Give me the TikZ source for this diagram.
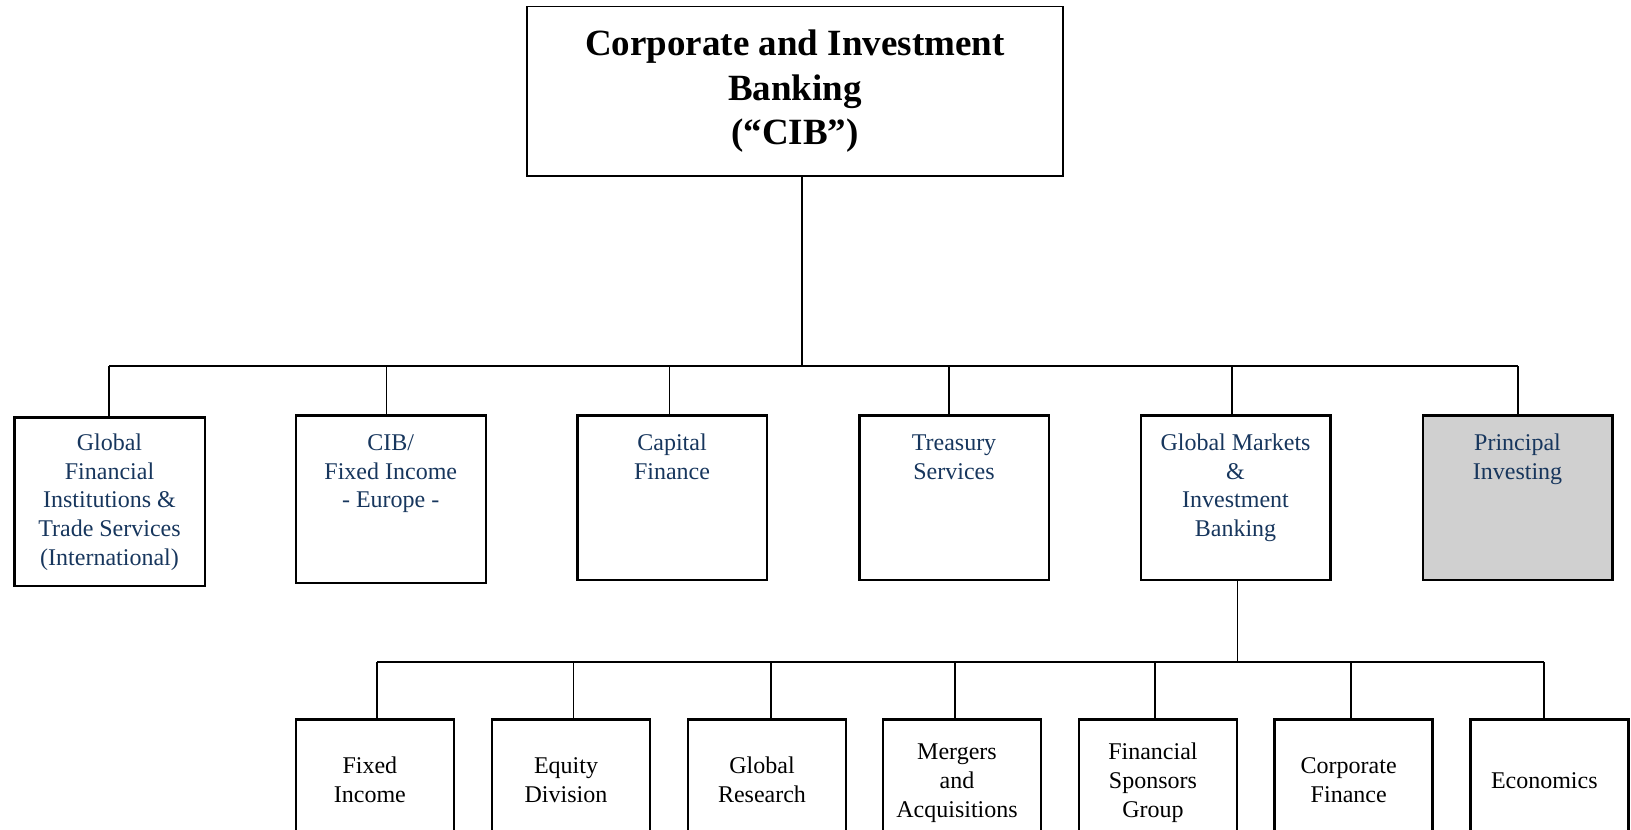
\documentclass[tikz,border=0pt]{standalone}
\usepackage{fontspec}
\setmainfont{Liberation Serif}
\definecolor{txtblue}{RGB}{23,54,93}
\definecolor{boxgray}{RGB}{208,208,208}
\begin{document}
\begin{tikzpicture}[x=0.5pt,y=-0.5pt,
  topbox/.style={draw,line width=0.75pt,inner sep=0pt,minimum width=268.1pt,minimum height=84.6pt,align=center,font=\fontsize{18.5}{22.25}\selectfont\bfseries},
  unitbox/.style={draw,line width=1.25pt,inner sep=0pt,minimum width=94.75pt,minimum height=82.25pt},
  unittext/.style={anchor=north,inner sep=0pt,align=center,text=txtblue,font=\fontsize{12}{14.45}\selectfont},
  subbox/.style={draw,line width=1.25pt,inner sep=0pt,minimum width=79pt,minimum height=63.25pt},
  subtext/.style={inner sep=0pt,align=center,font=\fontsize{12}{14.45}\selectfont},
  conn/.style={line width=0.8pt}]
\useasboundingbox (0,0) rectangle (1631,829);
\clip (0,0) rectangle (1631,829);

% top box
\node[topbox] (cib) at (794.9,91.35) {\strut Corporate and Investment\\Banking\\(“CIB”)\strut};

% second row boxes
\node[unitbox,minimum width=95.25pt,minimum height=84.25pt] (b1) at (109.5,501.5) {};
\node[unitbox,minimum width=95pt,minimum height=83.75pt] (b2) at (390.75,499) {};
\node[unitbox] (b3) at (672,497.5) {};
\node[unitbox] (b4) at (954,497.5) {};
\node[unitbox] (b5) at (1235.5,497.5) {};
\node[unitbox,fill=boxgray] (b6) at (1517.5,497.5) {};

\node[unittext] (t1) at (109.5,429.5) {\strut Global\\Financial\\Institutions \&\\Trade Services\\(International)};
\node[unittext] (t2) at (390.75,429.5) {\strut CIB/\\Fixed Income\\- Europe -};
\node[unittext] (t3) at (672,429.5) {\strut Capital\\Finance};
\node[unittext] (t4) at (954,429.5) {\strut Treasury\\Services};
\node[unittext] (t5) at (1235.5,429.5) {\strut Global Markets\\\&\\Investment\\Banking};
\node[unittext] (t6) at (1517.5,429.5) {\strut Principal\\Investing};

% third row boxes
\node[subbox] (s1) at (374.9,782.5) {};
\node[subbox] (s2) at (571,782.5) {};
\node[subbox] (s3) at (767,782.5) {};
\node[subbox] (s4) at (962,782.5) {};
\node[subbox] (s5) at (1157.9,782.5) {};
\node[subbox] (s6) at (1353.7,782.5) {};
\node[subbox] (s7) at (1549.3,782.5) {};

\node[subtext] (u1) at ([xshift=-2.5pt]s1.center) {\strut Fixed\\Income\strut};
\node[subtext] (u2) at ([xshift=-2.5pt]s2.center) {\strut Equity\\Division\strut};
\node[subtext] (u3) at ([xshift=-2.5pt]s3.center) {\strut Global\\Research\strut};
\node[subtext] (u4) at ([xshift=-2.5pt]s4.center) {\strut Mergers\\and\\Acquisitions\strut};
\node[subtext] (u5) at ([xshift=-2.5pt]s5.center) {\strut Financial\\Sponsors\\Group\strut};
\node[subtext] (u6) at ([xshift=-2.5pt]s6.center) {\strut Corporate\\Finance\strut};
\node[subtext] (u7) at ([xshift=-2.5pt]s7.center) {\strut Economics\strut};

% junctions of the upper bus
\coordinate (jc) at (802,366);
\coordinate (j1) at (109,366);
\coordinate (j2) at (386.5,366);
\coordinate (j3) at (669.5,366);
\coordinate (j4) at (949,366);
\coordinate (j5) at (1232,366);
\coordinate (j6) at (1518,366);

\draw[conn] (jc |- cib.south) -- (jc);
\draw[conn] (j1) -- (j6);
\foreach \i in {1,...,6}{\draw[conn] (j\i) -- (j\i |- b\i.north);}

% junctions of the lower bus
\coordinate (kc) at (1237.4,662);
\coordinate (k1) at (377,662);
\coordinate (k2) at (573.5,662);
\coordinate (k3) at (771,662);
\coordinate (k4) at (955,662);
\coordinate (k5) at (1155,662);
\coordinate (k6) at (1351,662);
\coordinate (k7) at (1544,662);

\draw[conn] (kc |- b5.south) -- (kc);
\draw[conn] (k1) -- (k7);
\foreach \i in {1,...,7}{\draw[conn] (k\i) -- (k\i |- s\i.north);}
\end{tikzpicture}
\end{document}
